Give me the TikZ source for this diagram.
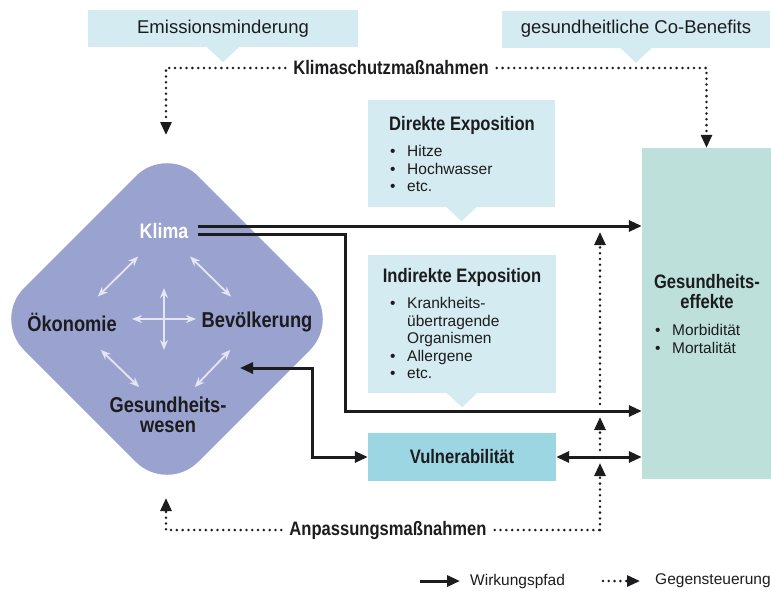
\documentclass[tikz,border=0pt]{standalone}
\usepackage{fontspec}
\setmainfont{Liberation Sans}
\newfontfamily\condfont[FakeStretch=0.85]{Liberation Sans}
\usetikzlibrary{arrows.meta,positioning,calc}

\definecolor{calloutblue}{RGB}{212,235,241}
\definecolor{vulnblue}{RGB}{157,214,227}
\definecolor{effectgreen}{RGB}{189,225,218}
\definecolor{diamondblue}{RGB}{154,162,207}
\definecolor{paleline}{RGB}{228,230,244}
\definecolor{ink}{RGB}{28,28,30}

\newcommand{\bul}{\makebox[17pt][l]{\textbullet}}

\tikzset{
  heading/.style={font=\condfont\bfseries\fontsize{19.5}{20}\selectfont, text=ink, inner sep=0pt},
  bigheading/.style={font=\condfont\bfseries\fontsize{21.5}{20}\selectfont, text=ink, inner sep=0pt},
  plain/.style={font=\fontsize{15.5}{17.5}\selectfont, text=ink, inner sep=0pt},
  callout/.style={fill=calloutblue, inner sep=0pt},
  pathline/.style={draw=ink, line width=3pt, -{Triangle[length=13pt,width=11pt]}},
  bothways/.style={pathline, {Triangle[length=13pt,width=11pt]}-{Triangle[length=13pt,width=11pt]}},
  dotline/.style={draw=ink, line width=2.8pt, line cap=round, dash pattern=on 0pt off 5.8pt},
  dotarrow/.style={dotline, -{Triangle[length=13pt,width=11pt]}},
  innerarrow/.style={draw=paleline, line width=1.8pt, {Stealth[length=10pt,width=8pt]}-{Stealth[length=10pt,width=8pt]}},
}

\begin{document}
\begin{tikzpicture}[x=1pt,y=-1pt]
  \useasboundingbox (0,0) rectangle (771,590);

  \node[callout, plain, font=\fontsize{18.5}{20}\selectfont, minimum width=270pt, minimum height=37pt] (emission) at (223,28.5) {Emissionsminderung};
  \fill[calloutblue] ([xshift=-16pt]emission.south) -- ++(16,15) -- ++(16,-15) -- cycle;
  \node[callout, plain, font=\fontsize{18.5}{20}\selectfont, minimum width=268pt, minimum height=37pt] (cobenefit) at (636,29) {gesundheitliche Co-Benefits};
  \fill[calloutblue] ([xshift=-16pt]cobenefit.south) -- ++(16,15) -- ++(16,-15) -- cycle;

  \node[callout, minimum width=187pt, minimum height=107pt] (direct) at (461.5,153.5) {};
  \fill[calloutblue] ([xshift=-15pt]direct.south) -- ++(15,14) -- ++(15,-14) -- cycle;
  \node[heading] (directtitle) at (462,125) {Direkte Exposition};
  \node[plain, align=left, anchor=north west] (directlist) at (390,145.5) {\bul Hitze\\\bul Hochwasser\\\bul etc.};

  \node[callout, minimum width=188pt, minimum height=138pt] (indirect) at (462,324) {};
  \fill[calloutblue] ([xshift=-15pt]indirect.south) -- ++(15,14) -- ++(15,-14) -- cycle;
  \node[heading] (indirecttitle) at (462,277) {Indirekte Exposition};
  \node[plain, align=left, anchor=north west] (indirectlist) at (390,297.5) {\bul Krankheits-\\\hspace*{17pt}übertragende\\\hspace*{17pt}Organismen\\\bul Allergene\\\bul etc.};

  \node[fill=effectgreen, inner sep=0pt, minimum width=129pt, minimum height=331pt] (effects) at (706.5,313.5) {};
  \node[heading, align=center] (effectstitle) at (707,292) {Gesundheits-\\effekte};
  \node[plain, align=left, anchor=north west] (effectslist) at (655,324.5) {\bul Morbidität\\\bul Mortalität};

  \node[heading, fill=vulnblue, minimum width=188pt, minimum height=48pt] (vuln) at (462,457) {Vulnerabilität};

  \fill[diamondblue, rounded corners=44pt] (254,232) -- (341,319) -- (167,493) -- (-7,319) -- (167,145) -- cycle;
  \node[bigheading, text=white, font=\condfont\bfseries\fontsize{21}{20}\selectfont] (klima) at (164,231) {Klima};
  \node[bigheading] (oeko) at (72,322) {Ökonomie};
  \node[bigheading] (bevoelk) at (257,322) {Bevölkerung};
  \node[bigheading, align=center] (gesund) at (168,415) {Gesundheits-\\wesen};

  \draw[innerarrow] ($(klima)!0.28!(oeko)$) -- ($(klima)!0.72!(oeko)$);
  \draw[innerarrow] ($(klima)!0.28!(bevoelk)$) -- ($(klima)!0.72!(bevoelk)$);
  \draw[innerarrow] ($(oeko)!0.3!(gesund)$) -- ($(oeko)!0.7!(gesund)$);
  \draw[innerarrow] ($(bevoelk)!0.3!(gesund)$) -- ($(bevoelk)!0.7!(gesund)$);
  \coordinate (hub) at (164,319);
  \draw[innerarrow] ($(hub)+(-32,0)$) -- ($(hub)+(32,0)$);
  \draw[innerarrow] ($(hub)+(0,-31)$) -- ($(hub)+(0,31)$);

  \coordinate (klimaout1) at (198,226);
  \coordinate (klimaout2) at (198,234);
  \coordinate (lowrow) at (0,411);
  \draw[pathline] (klimaout1) -- (klimaout1 -| effects.west);
  \draw[pathline] (klimaout2) -- ++(147,0) |- (effects.west |- lowrow);
  \coordinate (backin) at (240,368);
  \draw[bothways] (backin) -- ++(72,0) |- (vuln.west);
  \draw[bothways] (vuln.east) -- (vuln.east -| effects.west);

  \node[heading, inner xsep=8pt] (schutz) at (391,68) {Klimaschutzmaßnahmen};
  \draw[dotarrow] (schutz.west) -| (166,135);
  \draw[dotarrow] (schutz.east) -| (effects.north);

  \node[heading, inner xsep=8pt] (anpassung) at (388,530) {Anpassungsmaßnahmen};
  \coordinate (feedback) at (600,530);
  \draw[dotarrow] (anpassung.west) -| (166,498);
  \draw[dotline] (anpassung.east) -- (feedback);
  \draw[dotarrow, shorten >=6pt] (feedback) -- (feedback |- vuln.east);
  \draw[dotarrow, shorten <=7pt, shorten >=6pt] (feedback |- vuln.east) -- (feedback |- lowrow);
  \draw[dotarrow, shorten <=7pt, shorten >=6pt] (feedback |- lowrow) -- (feedback |- klimaout1);

  \node[plain, anchor=west] (wirkung) at (470,581) {Wirkungspfad};
  \draw[pathline] ([xshift=-50pt]wirkung.west) -- ([xshift=-10pt]wirkung.west);
  \node[plain, anchor=west] (gegen) at (655,581) {Gegensteuerung};
  \draw[dotarrow] ([xshift=-52pt]gegen.west) -- ([xshift=-15pt]gegen.west);
\end{tikzpicture}
\end{document}
